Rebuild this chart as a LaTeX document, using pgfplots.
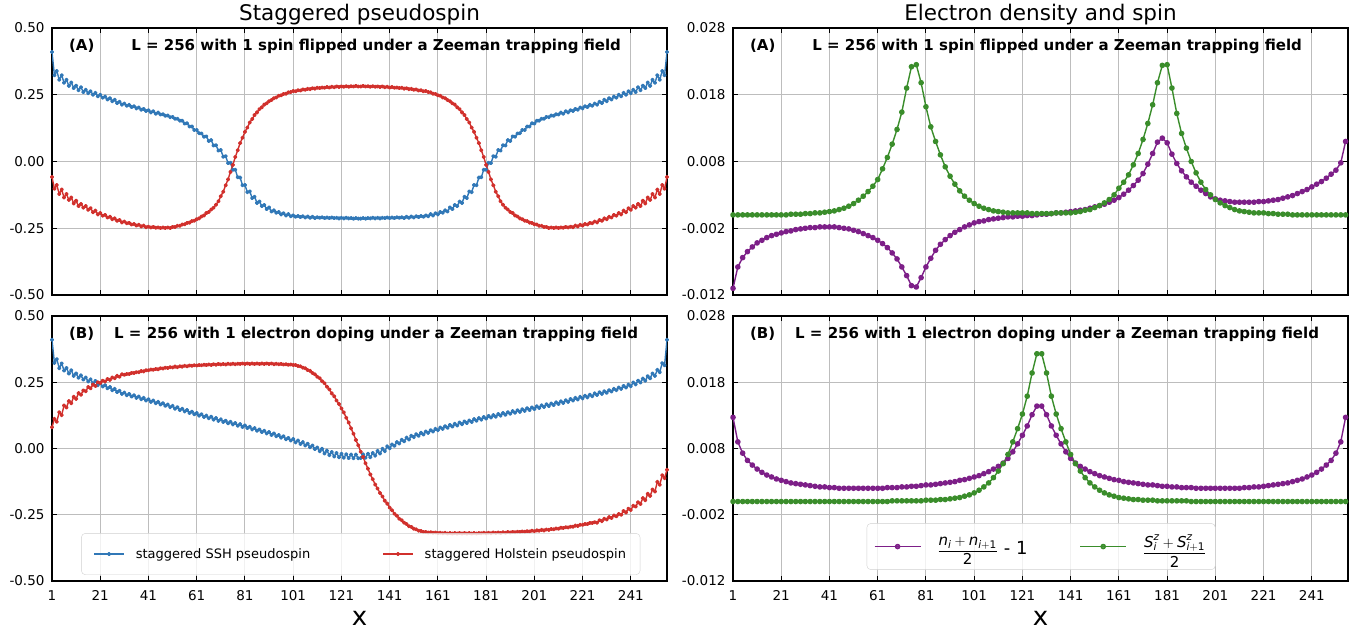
\documentclass[border=0pt]{standalone}
\usepackage{amsmath}
\usepackage{fontspec}
\setmainfont{DejaVu Sans}
\usepackage{pgfplots}
\pgfplotsset{compat=1.18}
\definecolor{sshblue}{HTML}{3178B7}
\definecolor{holred}{HTML}{D1302C}
\definecolor{npurple}{HTML}{7D1F88}
\definecolor{szgreen}{HTML}{3A8D2B}
\definecolor{gridgray}{HTML}{BDBDBD}
\pgfplotsset{
  baseax/.style={
    scale only axis, width=615pt,
    xmin=1, xmax=256, xtick={1,21,...,241},
    grid=major, grid style={gridgray, line width=0.9pt},
    axis line style={black, line width=1.3pt},
    tick align=inside, tick pos=both, major tick length=5pt,
    tick style={black, line width=1pt},
    tick label style={font=\fontsize{13.5}{16}\selectfont},
    /pgf/number format/assume math mode=true,
    scaled y ticks=false,
    yticklabel style={xshift=-4pt},
    xticklabel style={yshift=-6pt},
  },
  lax/.style={baseax, ymin=-0.5, ymax=0.5, ytick={-0.5,-0.25,0,0.25,0.5},
    yticklabel style={/pgf/number format/fixed, /pgf/number format/fixed zerofill, /pgf/number format/precision=2}},
  rax/.style={baseax, ymin=-0.012, ymax=0.028, ytick={-0.012,-0.002,0.008,0.018,0.028},
    yticklabel style={/pgf/number format/fixed, /pgf/number format/fixed zerofill, /pgf/number format/precision=3}},
  lline/.style={line width=1.4pt, mark=*, mark size=1.4pt, line join=round},
  rline/.style={line width=1.4pt, mark=*, mark size=2.1pt, line join=round},
}
\newcommand{\panel}[2]{%
  \node[font=\bfseries\fontsize{15}{17}\selectfont, anchor=west] at (rel axis cs:0.022,0.932) {#1};
  \node[font=\bfseries\fontsize{15}{17}\selectfont] at (rel axis cs:0.527,0.932) {#2};}
\newcommand{\ti}[1]{\text{\itshape #1}}
\begin{document}
\begin{tikzpicture}
\path[use as bounding box] (0pt,0pt) rectangle (1366pt,633pt);
%================ left top
\begin{axis}[lax, height=267pt, at={(52pt,338pt)}, anchor=south west, xticklabels={}]
\addplot[sshblue, lline] table[row sep=\\, x expr=\coordindex+1, y=y] {y\\
0.410\\0.323\\0.339\\0.306\\0.323\\0.295\\0.306\\0.283\\0.296\\0.275\\
0.284\\0.267\\0.278\\0.260\\0.269\\0.256\\0.263\\0.250\\0.257\\0.244\\
0.250\\0.239\\0.243\\0.232\\0.237\\0.226\\0.231\\0.219\\0.224\\0.213\\
0.217\\0.209\\0.212\\0.204\\0.207\\0.199\\0.202\\0.194\\0.197\\0.189\\
0.192\\0.184\\0.188\\0.179\\0.183\\0.176\\0.177\\0.171\\0.172\\0.166\\
0.167\\0.160\\0.160\\0.153\\0.153\\0.142\\0.143\\0.131\\0.131\\0.118\\
0.118\\0.106\\0.105\\0.093\\0.094\\0.077\\0.080\\0.060\\0.061\\0.041\\
0.043\\0.018\\0.020\\-0.006\\-0.005\\-0.031\\-0.031\\-0.059\\-0.060\\-0.089\\
-0.088\\-0.115\\-0.112\\-0.137\\-0.132\\-0.155\\-0.150\\-0.167\\-0.163\\-0.178\\
-0.172\\-0.187\\-0.183\\-0.192\\-0.189\\-0.198\\-0.194\\-0.202\\-0.197\\-0.205\\
-0.202\\-0.207\\-0.204\\-0.208\\-0.205\\-0.210\\-0.206\\-0.211\\-0.207\\-0.212\\
-0.209\\-0.211\\-0.209\\-0.212\\-0.210\\-0.212\\-0.210\\-0.212\\-0.211\\-0.213\\
-0.211\\-0.213\\-0.211\\-0.213\\-0.212\\-0.214\\-0.212\\-0.214\\
-0.214\\-0.212\\-0.214\\-0.212\\-0.213\\-0.211\\-0.213\\-0.211\\
-0.213\\-0.211\\-0.212\\-0.210\\-0.212\\-0.210\\-0.212\\-0.209\\-0.211\\-0.209\\
-0.212\\-0.207\\-0.211\\-0.206\\-0.210\\-0.205\\-0.208\\-0.204\\-0.207\\-0.202\\
-0.205\\-0.197\\-0.202\\-0.194\\-0.198\\-0.189\\-0.192\\-0.183\\-0.187\\-0.172\\
-0.178\\-0.163\\-0.167\\-0.150\\-0.155\\-0.132\\-0.137\\-0.112\\-0.115\\-0.088\\
-0.089\\-0.060\\-0.059\\-0.031\\-0.031\\-0.005\\-0.006\\0.020\\0.018\\0.043\\
0.041\\0.061\\0.060\\0.080\\0.077\\0.094\\0.093\\0.105\\0.106\\0.118\\
0.118\\0.131\\0.131\\0.143\\0.142\\0.153\\0.153\\0.160\\0.160\\0.167\\
0.166\\0.172\\0.171\\0.177\\0.176\\0.183\\0.179\\0.188\\0.184\\0.192\\
0.189\\0.197\\0.194\\0.202\\0.199\\0.207\\0.204\\0.212\\0.209\\0.217\\
0.213\\0.224\\0.219\\0.231\\0.226\\0.237\\0.232\\0.243\\0.239\\0.250\\
0.244\\0.257\\0.250\\0.263\\0.256\\0.269\\0.260\\0.278\\0.267\\0.284\\
0.275\\0.296\\0.283\\0.306\\0.295\\0.323\\0.306\\0.339\\0.323\\0.410\\
};
\addplot[holred, lline] table[row sep=\\, x expr=\coordindex+1, y=y] {y\\
-0.058\\-0.102\\-0.088\\-0.122\\-0.105\\-0.135\\-0.122\\-0.144\\-0.135\\-0.157\\
-0.147\\-0.167\\-0.159\\-0.173\\-0.167\\-0.181\\-0.175\\-0.190\\-0.184\\-0.198\\
-0.193\\-0.203\\-0.200\\-0.210\\-0.207\\-0.216\\-0.213\\-0.222\\-0.219\\-0.228\\
-0.225\\-0.231\\-0.230\\-0.236\\-0.234\\-0.240\\-0.237\\-0.243\\-0.240\\-0.246\\
-0.244\\-0.247\\-0.245\\-0.248\\-0.247\\-0.249\\-0.247\\-0.249\\-0.247\\-0.249\\
-0.245\\-0.245\\-0.241\\-0.241\\-0.236\\-0.235\\-0.230\\-0.229\\-0.223\\-0.222\\
-0.216\\-0.213\\-0.206\\-0.202\\-0.193\\-0.189\\-0.180\\-0.173\\-0.162\\-0.149\\
-0.130\\-0.113\\-0.089\\-0.067\\-0.039\\-0.013\\0.017\\0.042\\0.069\\0.089\\
0.111\\0.127\\0.146\\0.159\\0.174\\0.184\\0.196\\0.203\\0.213\\0.218\\
0.226\\0.230\\0.237\\0.240\\0.246\\0.248\\0.253\\0.254\\0.259\\0.260\\
0.264\\0.263\\0.267\\0.266\\0.270\\0.269\\0.272\\0.271\\0.274\\0.273\\
0.276\\0.275\\0.277\\0.276\\0.279\\0.277\\0.280\\0.278\\0.281\\0.279\\
0.281\\0.280\\0.282\\0.280\\0.282\\0.281\\0.283\\0.281\\
0.281\\0.283\\0.281\\0.282\\0.280\\0.282\\0.280\\0.281\\
0.279\\0.281\\0.278\\0.280\\0.277\\0.279\\0.276\\0.277\\0.275\\0.276\\
0.273\\0.274\\0.271\\0.272\\0.269\\0.270\\0.266\\0.267\\0.263\\0.264\\
0.260\\0.259\\0.254\\0.253\\0.248\\0.246\\0.240\\0.237\\0.230\\0.226\\
0.218\\0.213\\0.203\\0.196\\0.184\\0.174\\0.159\\0.146\\0.127\\0.111\\
0.089\\0.069\\0.042\\0.017\\-0.013\\-0.039\\-0.067\\-0.089\\-0.113\\-0.130\\
-0.149\\-0.162\\-0.173\\-0.180\\-0.189\\-0.193\\-0.202\\-0.206\\-0.213\\-0.216\\
-0.222\\-0.223\\-0.229\\-0.230\\-0.235\\-0.236\\-0.241\\-0.241\\-0.245\\-0.245\\
-0.249\\-0.247\\-0.249\\-0.247\\-0.249\\-0.247\\-0.248\\-0.245\\-0.247\\-0.244\\
-0.246\\-0.240\\-0.243\\-0.237\\-0.240\\-0.234\\-0.236\\-0.230\\-0.231\\-0.225\\
-0.228\\-0.219\\-0.222\\-0.213\\-0.216\\-0.207\\-0.210\\-0.200\\-0.203\\-0.193\\
-0.198\\-0.184\\-0.190\\-0.175\\-0.181\\-0.167\\-0.173\\-0.159\\-0.167\\-0.147\\
-0.157\\-0.135\\-0.144\\-0.122\\-0.135\\-0.105\\-0.122\\-0.088\\-0.102\\-0.058\\
};
\panel{(A)}{L = 256 with 1 spin flipped under a Zeeman trapping field}
\end{axis}
%================ left bottom
\begin{axis}[lax, height=265pt, at={(52pt,52pt)}, anchor=south west,
  legend style={at={(0.502,0.023)}, anchor=south, legend columns=2, draw=black!18, rounded corners=4pt,
    fill=white, fill opacity=0.8, text opacity=1, draw opacity=1,
    font=\fontsize{13}{15}\selectfont, inner xsep=12pt, inner ysep=13pt,
    /tikz/every odd column/.append style={column sep=9pt},
    /tikz/every even column/.append style={column sep=70pt}},
  legend cell align=left,
  legend image code/.code={\draw[mark repeat=2, mark phase=2, #1] plot coordinates {(0pt,0pt) (15pt,0pt) (30pt,0pt)};},
]
\addplot[sshblue, lline] table[row sep=\\, x expr=\coordindex+1, y=y] {y\\
0.410\\0.323\\0.337\\0.303\\0.321\\0.294\\0.304\\0.283\\0.295\\0.274\\
0.283\\0.267\\0.276\\0.260\\0.268\\0.253\\0.261\\0.246\\0.255\\0.239\\
0.246\\0.234\\0.239\\0.227\\0.232\\0.220\\0.225\\0.213\\0.218\\0.206\\
0.211\\0.201\\0.206\\0.196\\0.201\\0.191\\0.196\\0.186\\0.191\\0.181\\
0.186\\0.176\\0.181\\0.171\\0.176\\0.166\\0.171\\0.161\\0.166\\0.156\\
0.161\\0.150\\0.156\\0.145\\0.150\\0.140\\0.145\\0.134\\0.139\\0.129\\
0.134\\0.124\\0.129\\0.119\\0.124\\0.114\\0.120\\0.109\\0.115\\0.104\\
0.110\\0.100\\0.105\\0.095\\0.101\\0.091\\0.096\\0.086\\0.092\\0.081\\
0.087\\0.077\\0.082\\0.072\\0.077\\0.067\\0.072\\0.062\\0.067\\0.057\\
0.062\\0.051\\0.057\\0.046\\0.051\\0.041\\0.046\\0.035\\0.040\\0.030\\
0.036\\0.023\\0.030\\0.017\\0.024\\0.011\\0.018\\0.005\\0.011\\-0.002\\
0.004\\-0.010\\-0.001\\-0.019\\-0.008\\-0.025\\-0.013\\-0.030\\-0.017\\-0.033\\
-0.020\\-0.035\\-0.022\\-0.036\\-0.023\\-0.037\\-0.023\\-0.037\\
-0.036\\-0.022\\-0.035\\-0.020\\-0.033\\-0.017\\-0.027\\-0.009\\-0.019\\-0.001\\
-0.010\\0.008\\0.001\\0.015\\0.010\\0.024\\0.019\\0.033\\0.027\\0.041\\
0.034\\0.048\\0.043\\0.054\\0.048\\0.059\\0.053\\0.064\\0.059\\0.069\\
0.064\\0.074\\0.069\\0.079\\0.074\\0.084\\0.078\\0.089\\0.083\\0.093\\
0.087\\0.098\\0.092\\0.102\\0.096\\0.106\\0.100\\0.111\\0.105\\0.115\\
0.109\\0.119\\0.113\\0.123\\0.117\\0.126\\0.120\\0.130\\0.124\\0.134\\
0.127\\0.137\\0.131\\0.141\\0.135\\0.144\\0.138\\0.148\\0.142\\0.152\\
0.145\\0.155\\0.149\\0.159\\0.153\\0.163\\0.157\\0.167\\0.160\\0.170\\
0.164\\0.174\\0.168\\0.178\\0.172\\0.182\\0.176\\0.187\\0.181\\0.191\\
0.185\\0.195\\0.189\\0.199\\0.193\\0.203\\0.197\\0.208\\0.202\\0.212\\
0.206\\0.216\\0.210\\0.220\\0.215\\0.225\\0.220\\0.230\\0.225\\0.236\\
0.230\\0.241\\0.235\\0.249\\0.242\\0.256\\0.249\\0.264\\0.256\\0.273\\
0.265\\0.283\\0.274\\0.297\\0.288\\0.322\\0.314\\0.410\\
};
\addlegendentry{staggered SSH pseudospin}
\addplot[holred, lline] table[row sep=\\, x expr=\coordindex+1, y=y] {y\\
0.080\\0.112\\0.101\\0.137\\0.126\\0.162\\0.155\\0.179\\0.171\\0.195\\
0.187\\0.209\\0.203\\0.219\\0.216\\0.232\\0.227\\0.241\\0.236\\0.250\\
0.247\\0.256\\0.253\\0.262\\0.259\\0.268\\0.265\\0.274\\0.271\\0.280\\
0.278\\0.281\\0.281\\0.285\\0.285\\0.288\\0.288\\0.292\\0.291\\0.295\\
0.295\\0.298\\0.297\\0.300\\0.299\\0.303\\0.302\\0.305\\0.304\\0.307\\
0.306\\0.309\\0.307\\0.310\\0.309\\0.312\\0.310\\0.313\\0.312\\0.314\\
0.313\\0.315\\0.314\\0.316\\0.315\\0.317\\0.315\\0.318\\0.316\\0.319\\
0.317\\0.319\\0.317\\0.320\\0.318\\0.320\\0.318\\0.320\\0.319\\0.321\\
0.319\\0.321\\0.319\\0.321\\0.319\\0.321\\0.319\\0.321\\0.319\\0.321\\
0.319\\0.321\\0.318\\0.320\\0.318\\0.319\\0.317\\0.318\\0.316\\0.317\\
0.315\\0.315\\0.311\\0.310\\0.305\\0.303\\0.296\\0.293\\0.285\\0.280\\
0.271\\0.265\\0.254\\0.246\\0.233\\0.223\\0.208\\0.197\\0.181\\0.168\\
0.151\\0.136\\0.116\\0.098\\0.076\\0.056\\0.032\\0.012\\
-0.012\\-0.032\\-0.056\\-0.076\\-0.098\\-0.116\\-0.136\\-0.151\\
-0.168\\-0.181\\-0.197\\-0.208\\-0.223\\-0.233\\-0.246\\-0.254\\-0.265\\-0.271\\
-0.280\\-0.285\\-0.293\\-0.296\\-0.303\\-0.305\\-0.310\\-0.311\\-0.315\\-0.315\\
-0.317\\-0.316\\-0.318\\-0.317\\-0.319\\-0.318\\-0.320\\-0.318\\-0.321\\-0.319\\
-0.321\\-0.319\\-0.321\\-0.319\\-0.321\\-0.319\\-0.321\\-0.319\\-0.321\\-0.319\\
-0.321\\-0.319\\-0.320\\-0.318\\-0.320\\-0.318\\-0.320\\-0.317\\-0.319\\-0.317\\
-0.319\\-0.316\\-0.318\\-0.315\\-0.317\\-0.315\\-0.316\\-0.314\\-0.315\\-0.313\\
-0.314\\-0.312\\-0.313\\-0.310\\-0.312\\-0.309\\-0.310\\-0.307\\-0.309\\-0.306\\
-0.307\\-0.304\\-0.305\\-0.302\\-0.303\\-0.299\\-0.300\\-0.297\\-0.298\\-0.295\\
-0.295\\-0.291\\-0.292\\-0.288\\-0.288\\-0.285\\-0.285\\-0.281\\-0.281\\-0.278\\
-0.280\\-0.271\\-0.274\\-0.265\\-0.268\\-0.259\\-0.262\\-0.253\\-0.256\\-0.247\\
-0.250\\-0.236\\-0.241\\-0.227\\-0.232\\-0.216\\-0.219\\-0.203\\-0.209\\-0.187\\
-0.195\\-0.171\\-0.179\\-0.155\\-0.162\\-0.126\\-0.137\\-0.101\\-0.112\\-0.080\\
};
\addlegendentry{staggered Holstein pseudospin}
\panel{(B)}{L = 256 with 1 electron doping under a Zeeman trapping field}
\end{axis}
%================ right top
\begin{axis}[rax, height=267pt, at={(733pt,338pt)}, anchor=south west, xticklabels={}]
\addplot[npurple, rline] table[row sep=\\, x expr=2*\coordindex+1, y=y] {y\\
-0.0110\\-0.0078\\-0.0064\\-0.0055\\-0.0048\\-0.0042\\-0.0038\\-0.0034\\-0.0031\\-0.0029\\
-0.0027\\-0.0025\\-0.0024\\-0.0022\\-0.0021\\-0.0020\\-0.0019\\-0.0019\\-0.0018\\-0.0018\\
-0.0018\\-0.0018\\-0.0019\\-0.0020\\-0.0021\\-0.0023\\-0.0025\\-0.0028\\-0.0031\\-0.0034\\
-0.0038\\-0.0043\\-0.0049\\-0.0057\\-0.0066\\-0.0078\\-0.0091\\-0.0106\\-0.0108\\-0.0094\\
-0.0078\\-0.0065\\-0.0053\\-0.0044\\-0.0037\\-0.0031\\-0.0026\\-0.0022\\-0.0018\\-0.0015\\
-0.0012\\-0.0010\\-0.0009\\-0.0007\\-0.0006\\-0.0005\\-0.0004\\-0.0003\\-0.0003\\-0.0002\\
-0.0002\\-0.0001\\-0.0001\\0.0000\\0.0001\\0.0001\\0.0002\\0.0003\\0.0003\\0.0004\\
0.0005\\0.0006\\0.0007\\0.0008\\0.0010\\0.0012\\0.0014\\0.0016\\0.0019\\0.0022\\
0.0026\\0.0031\\0.0037\\0.0044\\0.0052\\0.0062\\0.0076\\0.0092\\0.0109\\0.0115\\
0.0108\\0.0091\\0.0077\\0.0066\\0.0057\\0.0049\\0.0043\\0.0037\\0.0032\\0.0027\\
0.0024\\0.0022\\0.0021\\0.0020\\0.0019\\0.0019\\0.0019\\0.0019\\0.0019\\0.0020\\
0.0020\\0.0021\\0.0022\\0.0023\\0.0025\\0.0027\\0.0029\\0.0032\\0.0035\\0.0038\\
0.0042\\0.0046\\0.0050\\0.0055\\0.0061\\0.0067\\0.0078\\0.0110\\
};
\addplot[szgreen, rline] table[row sep=\\, x expr=2*\coordindex+1, y=y] {y\\
0.0000\\0.0000\\0.0000\\0.0000\\0.0000\\0.0000\\0.0000\\0.0000\\0.0000\\0.0000\\
0.0000\\0.0000\\0.0001\\0.0001\\0.0001\\0.0002\\0.0002\\0.0003\\0.0003\\0.0004\\
0.0005\\0.0006\\0.0008\\0.0010\\0.0013\\0.0017\\0.0022\\0.0028\\0.0035\\0.0043\\
0.0053\\0.0069\\0.0086\\0.0106\\0.0128\\0.0154\\0.0190\\0.0222\\0.0225\\0.0198\\
0.0162\\0.0132\\0.0110\\0.0090\\0.0072\\0.0058\\0.0046\\0.0036\\0.0028\\0.0022\\
0.0017\\0.0013\\0.0010\\0.0008\\0.0006\\0.0005\\0.0004\\0.0003\\0.0003\\0.0003\\
0.0003\\0.0003\\0.0002\\0.0002\\0.0002\\0.0002\\0.0002\\0.0003\\0.0003\\0.0003\\
0.0003\\0.0004\\0.0005\\0.0007\\0.0008\\0.0011\\0.0014\\0.0018\\0.0023\\0.0030\\
0.0040\\0.0049\\0.0060\\0.0075\\0.0092\\0.0113\\0.0137\\0.0165\\0.0198\\0.0224\\
0.0225\\0.0190\\0.0152\\0.0122\\0.0100\\0.0080\\0.0063\\0.0049\\0.0038\\0.0030\\
0.0023\\0.0018\\0.0014\\0.0011\\0.0008\\0.0006\\0.0005\\0.0004\\0.0003\\0.0003\\
0.0003\\0.0002\\0.0002\\0.0001\\0.0001\\0.0001\\0.0000\\0.0000\\0.0000\\0.0000\\
0.0000\\0.0000\\0.0000\\0.0000\\0.0000\\0.0000\\0.0000\\0.0000\\
};
\panel{(A)}{L = 256 with 1 spin flipped under a Zeeman trapping field}
\end{axis}
%================ right bottom
\begin{axis}[rax, height=265pt, at={(733pt,52pt)}, anchor=south west,
  legend style={at={(0.501,0.042)}, anchor=south, legend columns=2, draw=black!18, rounded corners=4pt,
    fill=white, fill opacity=0.8, text opacity=1, draw opacity=1,
    font=\fontsize{18}{20}\selectfont, inner xsep=7pt, inner ysep=9pt,
    /tikz/every odd column/.append style={column sep=14pt},
    /tikz/every even column/.append style={column sep=50pt}},
  legend cell align=left,
  legend image code/.code={\draw[mark repeat=2, mark phase=2, #1] plot coordinates {(0pt,0pt) (23pt,0pt) (46pt,0pt)};},
]
\addplot[npurple, rline] table[row sep=\\, x expr=2*\coordindex+1, y=y] {y\\
0.0127\\0.0090\\0.0073\\0.0062\\0.0055\\0.0049\\0.0044\\0.0040\\0.0037\\0.0034\\
0.0032\\0.0030\\0.0028\\0.0027\\0.0026\\0.0025\\0.0024\\0.0023\\0.0022\\0.0022\\
0.0021\\0.0021\\0.0020\\0.0020\\0.0020\\0.0020\\0.0020\\0.0020\\0.0020\\0.0020\\
0.0020\\0.0020\\0.0021\\0.0021\\0.0021\\0.0022\\0.0022\\0.0023\\0.0023\\0.0024\\
0.0025\\0.0025\\0.0026\\0.0027\\0.0028\\0.0029\\0.0030\\0.0032\\0.0033\\0.0035\\
0.0037\\0.0039\\0.0042\\0.0045\\0.0049\\0.0053\\0.0058\\0.0065\\0.0075\\0.0087\\
0.0100\\0.0114\\0.0131\\0.0144\\0.0144\\0.0131\\0.0114\\0.0100\\0.0087\\0.0075\\
0.0065\\0.0058\\0.0053\\0.0049\\0.0045\\0.0042\\0.0039\\0.0037\\0.0035\\0.0033\\
0.0032\\0.0030\\0.0029\\0.0028\\0.0027\\0.0026\\0.0025\\0.0025\\0.0024\\0.0023\\
0.0023\\0.0022\\0.0022\\0.0021\\0.0021\\0.0021\\0.0020\\0.0020\\0.0020\\0.0020\\
0.0020\\0.0020\\0.0020\\0.0020\\0.0020\\0.0020\\0.0021\\0.0021\\0.0022\\0.0022\\
0.0023\\0.0024\\0.0025\\0.0026\\0.0027\\0.0028\\0.0030\\0.0032\\0.0034\\0.0037\\
0.0040\\0.0044\\0.0049\\0.0055\\0.0062\\0.0073\\0.0090\\0.0127\\
};
\addlegendentry{{\fontsize{15}{17}\selectfont$\displaystyle\frac{\ti{n}_{\ti{i}}+\ti{n}_{\ti{i}+\text{1}}}{\text{2}}$}\ - 1}
\addplot[szgreen, rline] table[row sep=\\, x expr=2*\coordindex+1, y=y] {y\\
0.0000\\0.0000\\0.0000\\0.0000\\0.0000\\0.0000\\0.0000\\0.0000\\0.0000\\0.0000\\
0.0000\\0.0000\\0.0000\\0.0000\\0.0000\\0.0000\\0.0000\\0.0000\\0.0000\\0.0000\\
0.0000\\0.0000\\0.0000\\0.0000\\0.0000\\0.0000\\0.0000\\0.0000\\0.0000\\0.0000\\
0.0000\\0.0000\\0.0000\\0.0001\\0.0001\\0.0001\\0.0001\\0.0001\\0.0001\\0.0001\\
0.0002\\0.0002\\0.0002\\0.0003\\0.0003\\0.0004\\0.0005\\0.0006\\0.0008\\0.0010\\
0.0013\\0.0017\\0.0022\\0.0028\\0.0036\\0.0046\\0.0057\\0.0071\\0.0090\\0.0110\\
0.0132\\0.0159\\0.0194\\0.0223\\0.0223\\0.0194\\0.0159\\0.0132\\0.0110\\0.0090\\
0.0071\\0.0057\\0.0046\\0.0036\\0.0028\\0.0022\\0.0017\\0.0013\\0.0010\\0.0008\\
0.0006\\0.0005\\0.0004\\0.0003\\0.0003\\0.0002\\0.0002\\0.0002\\0.0001\\0.0001\\
0.0001\\0.0001\\0.0001\\0.0001\\0.0001\\0.0000\\0.0000\\0.0000\\0.0000\\0.0000\\
0.0000\\0.0000\\0.0000\\0.0000\\0.0000\\0.0000\\0.0000\\0.0000\\0.0000\\0.0000\\
0.0000\\0.0000\\0.0000\\0.0000\\0.0000\\0.0000\\0.0000\\0.0000\\0.0000\\0.0000\\
0.0000\\0.0000\\0.0000\\0.0000\\0.0000\\0.0000\\0.0000\\0.0000\\
};
\addlegendentry{{\fontsize{15}{17}\selectfont$\displaystyle\frac{\ti{S}^{\ti{z}}_{\ti{i}}+\ti{S}^{\ti{z}}_{\ti{i}+\text{1}}}{\text{2}}$}}
\panel{(B)}{L = 256 with 1 electron doping under a Zeeman trapping field}
\end{axis}
%================ titles
\node[font=\fontsize{21.5}{24}\selectfont] at (359.5pt,618pt) {Staggered pseudospin};
\node[font=\fontsize{21.5}{24}\selectfont] at (1040.5pt,618pt) {Electron density and spin};
\node[font=\fontsize{26}{28}\selectfont] at (359.5pt,15pt) {x};
\node[font=\fontsize{26}{28}\selectfont] at (1040.5pt,15pt) {x};
\end{tikzpicture}
\end{document}
